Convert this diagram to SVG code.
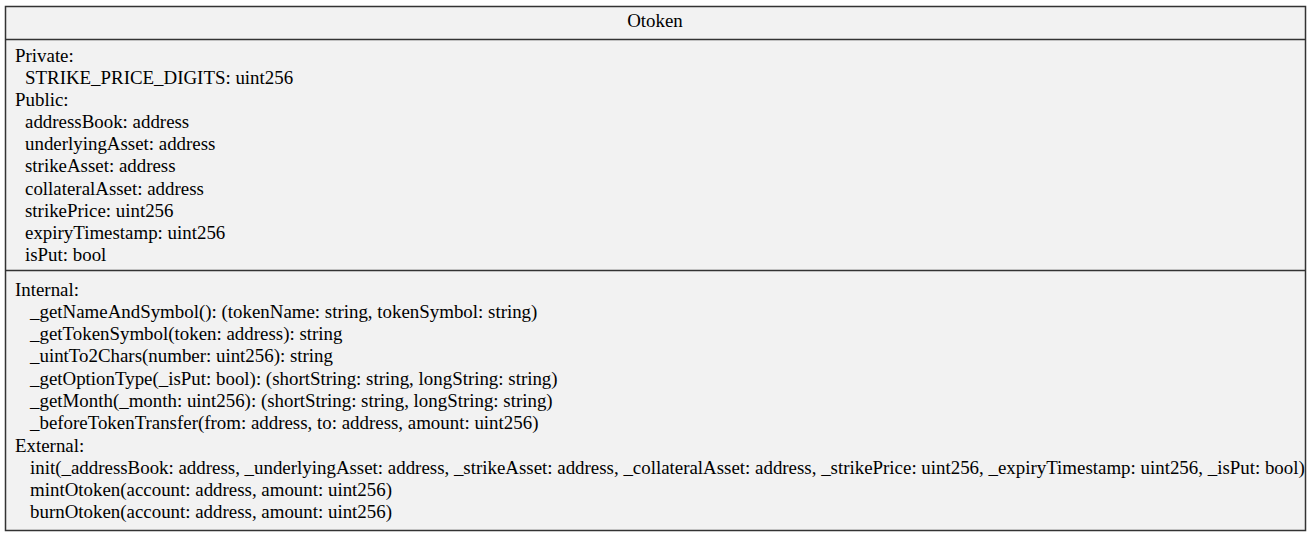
<svg xmlns="http://www.w3.org/2000/svg" width="1311" height="537" viewBox="0 0 1311 537">
<style>
.box{fill:#f2f2f2;stroke:#333;stroke-width:1.5}
.div{stroke:#333;stroke-width:1.5}
.t{text-anchor:middle}
</style>
<g id="Otoken">
<rect class="box" x="5.5" y="6.5" width="1300" height="524"/>
<line class="div" x1="5.5" y1="39.5" x2="1305.5" y2="39.5"/>
<line class="div" x1="5.5" y1="270.5" x2="1305.5" y2="270.5"/>
<g font-family="'Liberation Serif', 'DejaVu Serif', serif" font-size="18.9" fill="#000">
<text class="t" x="655" y="27">Otoken</text>
<text x="15" y="62">Private:</text>
<text x="25" y="84">STRIKE_PRICE_DIGITS: uint256</text>
<text x="15" y="106">Public:</text>
<text x="25" y="128">addressBook: address</text>
<text x="25" y="150">underlyingAsset: address</text>
<text x="25" y="172">strikeAsset: address</text>
<text x="25" y="195">collateralAsset: address</text>
<text x="25" y="217">strikePrice: uint256</text>
<text x="25" y="239">expiryTimestamp: uint256</text>
<text x="25" y="261">isPut: bool</text>
<text x="15" y="296">Internal:</text>
<text x="30" y="318">_getNameAndSymbol(): (tokenName: string, tokenSymbol: string)</text>
<text x="30" y="340">_getTokenSymbol(token: address): string</text>
<text x="30" y="362">_uintTo2Chars(number: uint256): string</text>
<text x="30" y="385">_getOptionType(_isPut: bool): (shortString: string, longString: string)</text>
<text x="30" y="407">_getMonth(_month: uint256): (shortString: string, longString: string)</text>
<text x="30" y="429">_beforeTokenTransfer(from: address, to: address, amount: uint256)</text>
<text x="15" y="452">External:</text>
<text x="30" y="474">init(_addressBook: address, _underlyingAsset: address, _strikeAsset: address, _collateralAsset: address, _strikePrice: uint256, _expiryTimestamp: uint256, _isPut: bool)</text>
<text x="30" y="496">mintOtoken(account: address, amount: uint256)</text>
<text x="30" y="518">burnOtoken(account: address, amount: uint256)</text>
</g>
</g>
</svg>
